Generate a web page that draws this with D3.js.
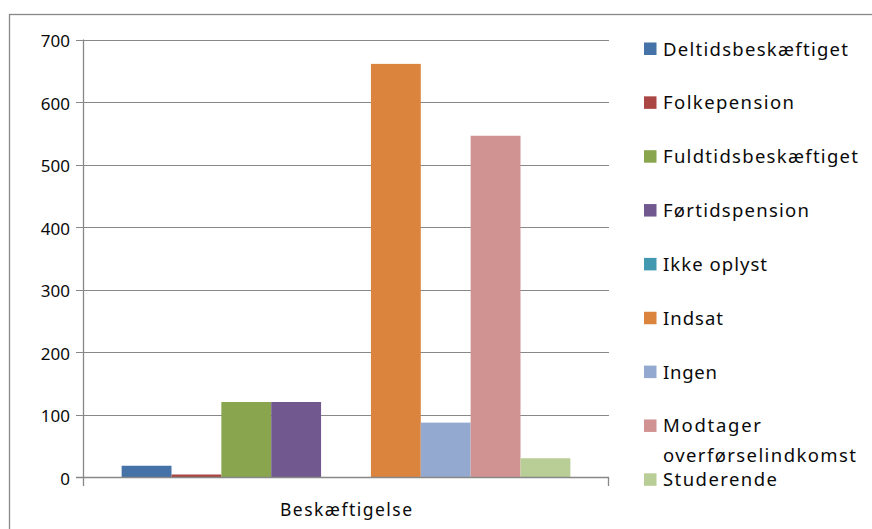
<!DOCTYPE html>
<html>
<head>
<meta charset="utf-8">
<script src="https://cdn.jsdelivr.net/npm/d3@7"></script>
<style>
  html, body { margin: 0; padding: 0; background: #fff; }
  svg { display: block; }
  text { font-family: "Noto Sans", "DejaVu Sans", sans-serif; fill: #0a0a0a; }
</style>
</head>
<body>
<div id="chart"></div>
<script>
// ---- data ----
const category = "Beskæftigelse";
const seriesNames = [
  "Deltidsbeskæftiget", "Folkepension", "Fuldtidsbeskæftiget", "Førtidspension",
  "Ikke oplyst", "Indsat", "Ingen", "Modtager overførselindkomst", "Studerende"
];
const seriesValues = [18, 4, 120, 120, 0, 661, 87, 546, 30];
const seriesColors = [
  "#4572A7", "#AA4643", "#89A54E", "#71588F", "#4198AF",
  "#DB843D", "#93A9CF", "#D19392", "#B9CD96"
];
const legendLines = [
  ["Deltidsbeskæftiget"], ["Folkepension"], ["Fuldtidsbeskæftiget"], ["Førtidspension"],
  ["Ikke oplyst"], ["Indsat"], ["Ingen"], ["Modtager", "overførselindkomst"], ["Studerende"]
];
const legendWidths = [[185], [131], [195], [146], [104], [60], [54], [98, 193], [114]];
const yTicks = [0, 100, 200, 300, 400, 500, 600, 700];

// ---- layout ----
const W = 872, H = 529;
const plot = { left: 83, right: 609, top: 39.5, bottom: 477 };
const grey = "#888888";

const svg = d3.select("#chart").append("svg")
  .attr("width", W).attr("height", H);

// outer chart border (extends beyond the visible frame)
svg.append("rect")
  .attr("x", 9.5).attr("y", 14.5)
  .attr("width", 1000).attr("height", 1000)
  .attr("fill", "none").attr("stroke", grey).attr("stroke-width", 1.3);

const y = d3.scaleLinear().domain([0, 700]).range([plot.bottom, plot.top]);
const x0 = d3.scaleBand().domain([category]).range([plot.left, plot.right]).paddingInner(0).paddingOuter(0);
const x1 = d3.scaleBand().domain(seriesNames)
  .range([x0(category), x0(category) + x0.bandwidth()])
  .paddingInner(0).paddingOuter(0.775);

// gridlines
svg.append("g").selectAll("line").data(yTicks).join("line")
  .attr("x1", plot.left - 7).attr("x2", plot.right)
  .attr("y1", d => Math.round(y(d)) + 0.5).attr("y2", d => Math.round(y(d)) + 0.5)
  .attr("stroke", grey).attr("stroke-width", 1.2);

// y axis
const yAxis = d3.axisLeft(y).tickValues(yTicks).tickSize(0).tickPadding(13);
const yg = svg.append("g").attr("transform", `translate(${plot.left},0)`).call(yAxis);
yg.select(".domain").remove();
yg.selectAll("text")
  .style("font-family", '"Noto Sans", "DejaVu Sans", sans-serif')
  .style("font-size", "17px").attr("fill", "#0a0a0a").attr("dy", "0.42em");

// bars
svg.append("g").selectAll("rect").data(seriesValues).join("rect")
  .attr("x", (d, i) => x1(seriesNames[i]))
  .attr("width", x1.bandwidth())
  .attr("y", d => y(d))
  .attr("height", d => y(0) - y(d))
  .attr("fill", (d, i) => seriesColors[i]);

// axis lines
svg.append("line")
  .attr("x1", plot.left + 0.5).attr("x2", plot.left + 0.5)
  .attr("y1", plot.top).attr("y2", plot.bottom + 9)
  .attr("stroke", grey).attr("stroke-width", 1.3);
svg.append("line")
  .attr("x1", plot.left - 7).attr("x2", plot.right)
  .attr("y1", Math.round(y(0)) + 0.5).attr("y2", Math.round(y(0)) + 0.5)
  .attr("stroke", grey).attr("stroke-width", 1.5);
svg.append("line")
  .attr("x1", plot.right - 0.5).attr("x2", plot.right - 0.5)
  .attr("y1", plot.bottom).attr("y2", plot.bottom + 9)
  .attr("stroke", grey).attr("stroke-width", 1.3);

// category label
svg.append("text")
  .attr("x", x0(category) + x0.bandwidth() / 2)
  .attr("y", 516)
  .attr("text-anchor", "middle")
  .attr("font-size", 17.5)
  .attr("textLength", 132).attr("lengthAdjust", "spacing")
  .text(category);

// legend
const legendY = i => 48.5 + i * 53.85;
const lg = svg.append("g").selectAll("g").data(seriesNames).join("g");
lg.append("rect")
  .attr("x", 644).attr("y", (d, i) => legendY(i) - 6)
  .attr("width", 12.5).attr("height", 12.5)
  .attr("fill", (d, i) => seriesColors[i]);
lg.each(function (d, i) {
  const g = d3.select(this);
  legendLines[i].forEach((line, j) => {
    g.append("text")
      .attr("x", 663)
      .attr("y", legendY(i) + 7 + j * 30)
      .attr("font-size", 18.5)
      .attr("textLength", legendWidths[i][j]).attr("lengthAdjust", "spacing")
      .text(line);
  });
});
</script>
</body>
</html>
